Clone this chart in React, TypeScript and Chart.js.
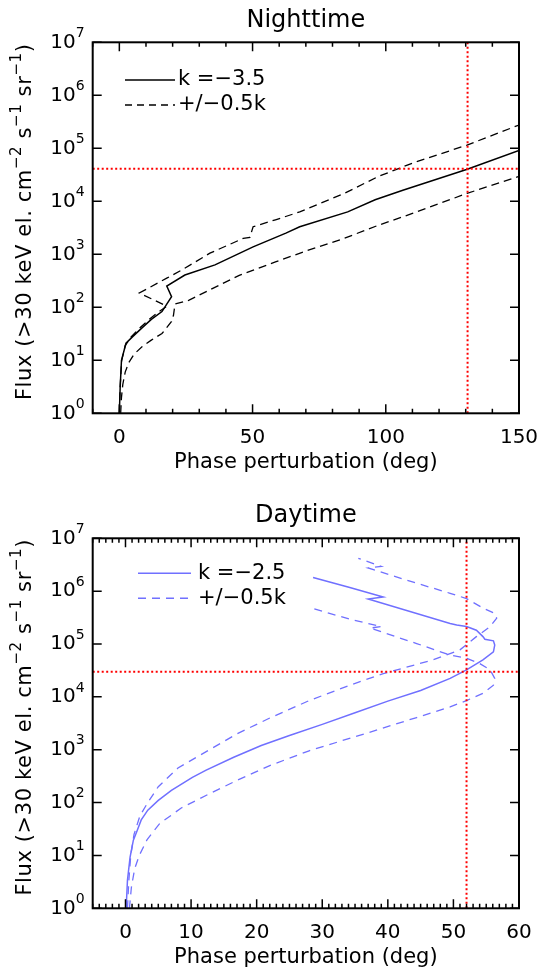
import React, { useEffect, useRef } from 'react';
import { Chart, registerables } from 'chart.js';

Chart.register(...registerables);

const FONT = '"DejaVu Sans", "Liberation Sans", sans-serif';

// ---------- Nighttime panel data (phase in deg, flux) ----------
const nightSolidPhase = [0, 0.3, 0.8, 2.5, 5, 8.3, 12, 16, 19.6, 17.8, 24.6, 35.9, 50.2, 62.5, 67.7, 85.7, 96, 106.4, 130.3, 150];
const nightSolidFlux = [1, 3, 10, 21, 28, 40, 59, 83, 158, 251, 407, 631, 1380, 2510, 3310, 6310, 10700, 16200, 39800, 91200];

const nightHighPhase = [0, 0.3, 0.9, 2.2, 4.5, 7.5, 11, 14.5, 17.8, 7.5, 17.8, 24, 34, 46.5, 49, 50.2, 58.6, 67.7, 84.4, 97.3, 110, 130.5, 150];
const nightHighFlux = [1, 3.2, 10, 19, 28, 40, 58, 80, 105, 186, 355, 525, 1050, 2000, 2090, 3310, 4470, 6310, 14100, 29500, 52500, 115000, 275000];

const nightLowPhase = [0.5, 0.8, 1.3, 2.2, 3.5, 5.5, 8.5, 12, 16, 19.6, 20.3, 20.9, 26, 34, 45, 58.6, 70, 84.4, 97, 110, 130.5, 150];
const nightLowFlux = [1, 2, 3.5, 6, 9, 13, 18, 24, 32, 54, 70, 115, 135, 214, 400, 720, 1150, 2000, 3500, 5900, 14100, 29500];

const nightMarkPhase = 130.7;
const nightMarkFlux = 41000;

// ---------- Daytime panel data ----------
const daySolidPhase = [0.1, 0.3, 0.7, 1.2, 1.8, 2.4, 3.4, 5, 7, 10.2, 12.3, 16.5, 20.7, 25, 30, 35, 40, 45, 49.5, 52, 54.5, 56.1, 56.3, 56.1, 54.8, 54.5, 53.5, 52, 50.5, 49.5, 37, 39.3, 34.2, 28.6];
const daySolidFlux = [1, 3.4, 9.3, 19.5, 30, 47, 72, 110, 170, 300, 410, 720, 1200, 1860, 3020, 5000, 8300, 13200, 22400, 32400, 50100, 70800, 95500, 115000, 123000, 138000, 182000, 214000, 229000, 245000, 708000, 776000, 1175000, 1820000];

const dayHighPhase = [0.3, 0.5, 0.8, 1.3, 2.2, 3.4, 5, 8, 12.8, 17, 22, 28, 34.2, 39.3, 46.9, 51, 53.5, 55.6, 56.6, 56.3, 54.5, 52, 49.5, 44.4, 37, 39, 35.5];
const dayHighFlux = [1, 3.2, 10, 25, 56, 100, 200, 450, 1000, 2000, 3980, 8500, 16600, 27500, 50100, 77600, 138000, 214000, 309000, 380000, 479000, 724000, 912000, 1410000, 2750000, 2950000, 4170000];

const dayLowPhase = [0.6, 0.9, 1.4, 2.1, 3.3, 5.2, 8.5, 12.5, 17, 22, 28, 33, 37, 40.8, 44.4, 49.5, 52, 54.5, 56.1, 56.3, 55.6, 54, 52, 49.5, 44.4, 37.3, 39, 34.2, 28.6];
const dayLowFlux = [1, 2.5, 5.6, 10, 20, 40, 79, 141, 263, 501, 955, 1480, 2090, 2950, 4070, 6460, 8510, 11700, 16600, 22400, 32400, 42700, 53700, 61700, 102000, 200000, 214000, 295000, 468000];

const dayMarkPhase = 52;
const dayMarkFlux = 30000;

// ---------- Axis ticks / labels ----------
const yTickValues = [1, 10, 100, 1e3, 1e4, 1e5, 1e6, 1e7];
const nightXTicks = [0, 50, 100, 150];
const dayXTicks = [0, 10, 20, 30, 40, 50, 60];

const xTitle = 'Phase perturbation (deg)';
const yTitleParts = [
  { t: 'Flux (>30 keV el. cm' },
  { t: '−2', sup: true },
  { t: ' s' },
  { t: '−1', sup: true },
  { t: ' sr' },
  { t: '−1', sup: true },
  { t: ')' },
];

const W = 540;
const H = 487;
const PLOT_LEFT = 92.7;
const PLOT_RIGHT = 519;

type Part = { t: string; sup?: boolean };

function drawRich(
  ctx: CanvasRenderingContext2D,
  parts: Part[],
  x0: number,
  cy: number,
  size: number,
  align: 'center' | 'right',
  supScale = 0.72,
  supRaise = 0.42,
) {
  const supSize = Math.round(size * supScale);
  const widths: number[] = [];
  let total = 0;
  parts.forEach((p) => {
    ctx.font = `${p.sup ? supSize : size}px ${FONT}`;
    const w = ctx.measureText(p.t).width;
    widths.push(w);
    total += w;
  });
  let x = align === 'center' ? x0 - total / 2 : x0 - total;
  ctx.textAlign = 'left';
  ctx.textBaseline = 'middle';
  parts.forEach((p, i) => {
    ctx.font = `${p.sup ? supSize : size}px ${FONT}`;
    ctx.fillText(p.t, x, cy - (p.sup ? size * supRaise : 0));
    x += widths[i];
  });
}

type LegendItem = { label: string; dash: number[]; color: string };

type PanelCfg = {
  title: string;
  titleY: number;
  plotTop: number;
  plotBottom: number;
  xMin: number;
  xMax: number;
  xTicks: number[];
  minorStep: number;
  tickLabelGap: number;
  xTitleY: number;
  solid: { x: number[]; y: number[] };
  high: { x: number[]; y: number[] };
  low: { x: number[]; y: number[] };
  markX: number;
  markY: number;
  color: string;
  dash: number[];
  legend: LegendItem[];
  legendLine: [number, number];
  legendTextX: number;
  legendRows: number[];
};

const toPts = (xs: number[], ys: number[]) => xs.map((x, i) => ({ x, y: ys[i] }));

function makeFramePlugin(p: PanelCfg) {
  return {
    id: 'frame',
    afterDraw(chart: any) {
      const ctx: any = chart.ctx;
      const { left, right, top, bottom } = chart.chartArea;
      const xs = chart.scales.x;
      const ys = chart.scales.y;
      ctx.save();
      ctx.strokeStyle = '#000';
      ctx.fillStyle = '#000';
      ctx.setLineDash([]);
      // ticks
      ctx.lineWidth = 1.5;
      ctx.beginPath();
      ys.ticks.forEach((t: any) => {
        const py = ys.getPixelForValue(t.value);
        ctx.moveTo(left, py);
        ctx.lineTo(left + 9, py);
        ctx.moveTo(right - 9, py);
        ctx.lineTo(right, py);
      });
      const nSteps = Math.round((p.xMax - p.xMin) / p.minorStep);
      for (let i = 0; i <= nSteps; i++) {
        const v = p.xMin + i * p.minorStep;
        const major = p.xTicks.some((t) => Math.abs(t - v) < 1e-6);
        const len = major ? 9 : 4.5;
        const px = xs.getPixelForValue(v);
        ctx.moveTo(px, bottom);
        ctx.lineTo(px, bottom - len);
        ctx.moveTo(px, top);
        ctx.lineTo(px, top + len);
      }
      ctx.stroke();
      // box
      ctx.lineWidth = 2;
      ctx.strokeRect(left, top, right - left, bottom - top);

      // y tick labels (10^n)
      ys.ticks.forEach((t: any) => {
        const py = ys.getPixelForValue(t.value);
        const e = Math.round(Math.log10(t.value));
        drawRich(ctx, [{ t: '10' }, { t: String(e), sup: true }], left - 8, py, 20, 'right', 0.7, 0.45);
      });

      // title
      ctx.font = `24px ${FONT}`;
      ctx.textAlign = 'center';
      ctx.textBaseline = 'middle';
      ctx.fillText(p.title, (left + right) / 2, p.titleY);

      // x title
      ctx.font = `21px ${FONT}`;
      ctx.fillText(xTitle, (left + right) / 2, p.xTitleY);

      // y title
      ctx.save();
      ctx.translate(26, (top + bottom) / 2 - 6);
      ctx.rotate(-Math.PI / 2);
      if ('letterSpacing' in ctx) ctx.letterSpacing = '0.6px';
      drawRich(ctx, yTitleParts, 0, 0, 21, 'center');
      if ('letterSpacing' in ctx) ctx.letterSpacing = '0px';
      ctx.restore();

      // legend
      p.legend.forEach((item, i) => {
        const yRow = p.legendRows[i];
        ctx.strokeStyle = item.color;
        ctx.lineWidth = 1.5;
        ctx.setLineDash(item.dash);
        ctx.beginPath();
        ctx.moveTo(p.legendLine[0], yRow);
        ctx.lineTo(p.legendLine[1], yRow);
        ctx.stroke();
        ctx.setLineDash([]);
        ctx.fillStyle = '#000';
        ctx.font = `21px ${FONT}`;
        ctx.textAlign = 'left';
        ctx.textBaseline = 'middle';
        ctx.fillText(item.label, p.legendTextX, yRow);
      });
      ctx.restore();
    },
  };
}

function buildConfig(p: PanelCfg): any {
  const red = 'rgb(255,0,0)';
  return {
    type: 'scatter',
    data: {
      datasets: [
        {
          label: 'mark-h',
          data: [{ x: p.xMin, y: p.markY }, { x: p.xMax, y: p.markY }],
          showLine: true,
          borderColor: red,
          borderWidth: 2,
          borderDash: [2, 2.5],
          pointRadius: 0,
        },
        {
          label: 'mark-v',
          data: [{ x: p.markX, y: 1 }, { x: p.markX, y: 1e7 }],
          showLine: true,
          borderColor: red,
          borderWidth: 2,
          borderDash: [2, 2.5],
          pointRadius: 0,
        },
        {
          label: p.legend[0].label,
          data: toPts(p.solid.x, p.solid.y),
          showLine: true,
          borderColor: p.color,
          borderWidth: 1.5,
          pointRadius: 0,
        },
        {
          label: p.legend[1].label,
          data: toPts(p.high.x, p.high.y),
          showLine: true,
          borderColor: p.color,
          borderWidth: 1.3,
          borderDash: p.dash,
          pointRadius: 0,
        },
        {
          label: p.legend[1].label + ' (low)',
          data: toPts(p.low.x, p.low.y),
          showLine: true,
          borderColor: p.color,
          borderWidth: 1.3,
          borderDash: p.dash,
          pointRadius: 0,
        },
      ],
    },
    options: {
      animation: false,
      responsive: false,
      devicePixelRatio: 1,
      layout: { padding: { top: p.plotTop, right: W - PLOT_RIGHT, left: 0, bottom: 0 } },
      plugins: { legend: { display: false }, tooltip: { enabled: false }, title: { display: false } },
      scales: {
        x: {
          type: 'linear',
          position: 'bottom',
          min: p.xMin,
          max: p.xMax,
          afterBuildTicks: (s: any) => {
            s.ticks = p.xTicks.map((v) => ({ value: v }));
          },
          afterFit: (s: any) => {
            s.height = H - p.plotBottom;
            s.paddingLeft = 0;
            s.paddingRight = 0;
          },
          ticks: {
            autoSkip: false,
            maxRotation: 0,
            padding: p.tickLabelGap,
            color: '#000',
            font: { family: FONT, size: 20 },
            callback: (v: any) => String(v),
          },
          grid: { display: false, drawTicks: false },
          border: { display: false },
        },
        y: {
          type: 'logarithmic',
          position: 'left',
          min: 1,
          max: 1e7,
          afterBuildTicks: (s: any) => {
            s.ticks = yTickValues.map((v) => ({ value: v }));
          },
          afterFit: (s: any) => {
            s.width = PLOT_LEFT;
            s.paddingTop = 0;
            s.paddingBottom = 0;
          },
          ticks: { display: false, autoSkip: false },
          grid: { display: false, drawTicks: false },
          border: { display: false },
        },
      },
    },
    plugins: [makeFramePlugin(p)],
  };
}

const nightCfg: PanelCfg = {
  title: 'Nighttime',
  titleY: 21,
  plotTop: 42.3,
  plotBottom: 413.3,
  xMin: -10,
  xMax: 150,
  xTicks: nightXTicks,
  minorStep: 10,
  tickLabelGap: 12,
  xTitleY: 463,
  solid: { x: nightSolidPhase, y: nightSolidFlux },
  high: { x: nightHighPhase, y: nightHighFlux },
  low: { x: nightLowPhase, y: nightLowFlux },
  markX: nightMarkPhase,
  markY: nightMarkFlux,
  color: '#000',
  dash: [8, 5],
  legend: [
    { label: 'k =−3.5', dash: [], color: '#000' },
    { label: '+/−0.5k', dash: [7, 5], color: '#000' },
  ],
  legendLine: [125, 175],
  legendTextX: 178,
  legendRows: [80, 105],
};

const dayCfg: PanelCfg = {
  title: 'Daytime',
  titleY: 29,
  plotTop: 51.3,
  plotBottom: 421.3,
  xMin: -5,
  xMax: 60,
  xTicks: dayXTicks,
  minorStep: 1,
  tickLabelGap: 12,
  xTitleY: 471,
  solid: { x: daySolidPhase, y: daySolidFlux },
  high: { x: dayHighPhase, y: dayHighFlux },
  low: { x: dayLowPhase, y: dayLowFlux },
  markX: dayMarkPhase,
  markY: dayMarkFlux,
  color: 'rgb(112,112,255)',
  dash: [8, 6],
  legend: [
    { label: 'k =−2.5', dash: [], color: 'rgb(112,112,255)' },
    { label: '+/−0.5k', dash: [8, 6], color: 'rgb(112,112,255)' },
  ],
  legendLine: [138, 191],
  legendTextX: 198,
  legendRows: [86.3, 111.3],
};

function Panel({ cfg }: { cfg: PanelCfg }) {
  const ref = useRef<HTMLCanvasElement>(null);
  useEffect(() => {
    if (!ref.current) return;
    const chart = new Chart(ref.current, buildConfig(cfg));
    return () => chart.destroy();
  }, [cfg]);
  return <canvas ref={ref} width={W} height={H} style={{ display: 'block', width: W, height: H }} />;
}

export default function App() {
  return (
    <div style={{ position: 'absolute', left: 0, top: 0, width: W, height: 974, background: '#fff' }}>
      <Panel cfg={nightCfg} />
      <Panel cfg={dayCfg} />
    </div>
  );
}
